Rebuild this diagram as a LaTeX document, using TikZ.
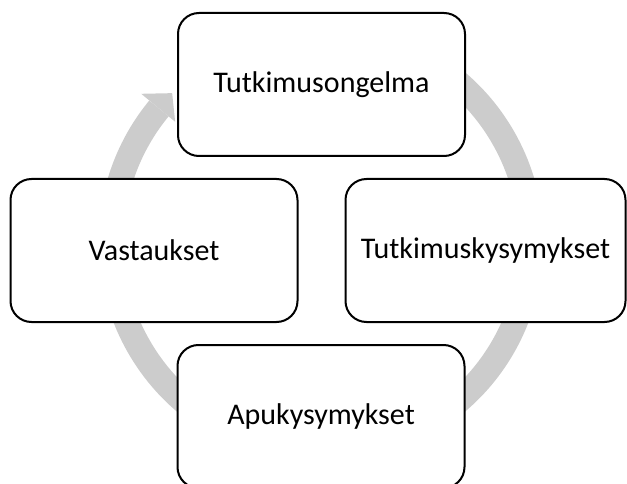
\documentclass[tikz,border=0pt]{standalone}
\usepackage{fontspec}
\setmainfont{Carlito}
\definecolor{ringgray}{RGB}{204,204,204}

\begin{document}
\begin{tikzpicture}[x=1pt,y=1pt,
  stepbox/.style={draw=black,line width=2pt,rounded corners=21pt,fill=white,
    minimum width=287pt,minimum height=143pt,inner sep=0pt,
    font=\fontsize{30}{36}\selectfont}]
\useasboundingbox (0,0) rectangle (627,483);
\clip (0,0) rectangle (627,483);
\coordinate (c) at (321,241);

% the circular arrow behind the boxes
\draw[ringgray,line width=25pt] ([shift={(120:210)}]c) arc[start angle=120,end angle=-219.5,radius=210];
\fill[ringgray] ([shift={(135:210.5)}]c) -- ([shift={(140.5:233)}]c) -- ([shift={(140.5:189)}]c) -- cycle;

\node[stepbox] (problem) at (321.5,398.5) {Tutkimusongelma};
\node[stepbox,minimum width=280pt] (resq) at (485.5,232.5) {Tutkimuskysymykset};
\node[stepbox] (helpq) at (321,66.5) {Apukysymykset};
\node[stepbox] (answers) at (154,232.5) {Vastaukset};

\end{tikzpicture}
\end{document}
